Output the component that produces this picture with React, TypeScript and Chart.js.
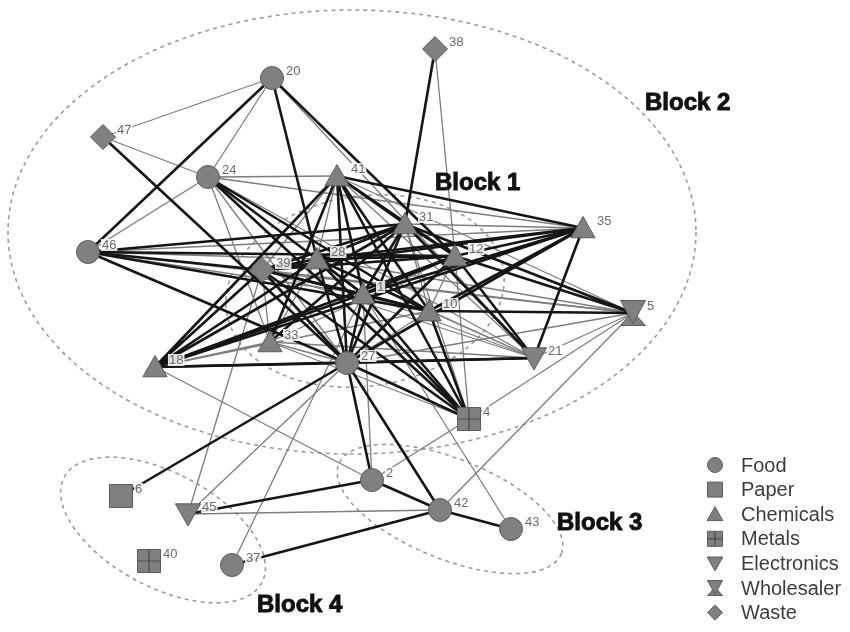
import React, { useEffect, useRef } from 'react';
import { Chart, registerables } from 'chart.js';

Chart.register(...registerables);

// ---------- data ----------
const nodeIds = ['1', '2', '4', '5', '6', '10', '12', '18', '20', '21', '24', '27', '28', '31', '33', '35', '37', '38', '39', '40', '41', '42', '43', '45', '46', '47'];
const nodeX = [363, 372, 469, 633, 121, 429, 455, 155, 272, 534, 208, 347, 317, 405, 270, 583, 232, 435, 262, 149, 337, 440, 511, 188, 88, 103];
const nodeY = [294, 480, 419, 313, 496, 311, 256, 367, 78, 358, 177, 363, 259, 224, 342, 228, 565, 49, 270, 561, 176, 510, 529, 514, 252, 137];
const nodeSector = ['Chemicals', 'Food', 'Metals', 'Wholesaler', 'Paper', 'Chemicals', 'Chemicals', 'Chemicals', 'Food', 'Electronics', 'Food', 'Food', 'Chemicals', 'Chemicals', 'Chemicals', 'Chemicals', 'Food', 'Waste', 'Waste', 'Metals', 'Chemicals', 'Food', 'Food', 'Electronics', 'Food', 'Waste'];

const sectors = ['Food', 'Paper', 'Chemicals', 'Metals', 'Electronics', 'Wholesaler', 'Waste'];

const strongTies: [string, string][] = [
  ['20', '46'], ['20', '28'], ['20', '12'],
  ['38', '31'], ['47', '27'],
  ['24', '1'], ['24', '10'], ['24', '4'],
  ['46', '31'], ['46', '12'], ['46', '39'], ['46', '10'], ['46', '27'],
  ['39', '18'], ['39', '27'], ['39', '28'], ['39', '31'], ['39', '12'], ['39', '35'], ['39', '1'], ['39', '10'], ['39', '4'],
  ['41', '18'], ['41', '33'], ['41', '1'], ['41', '27'], ['41', '31'], ['41', '12'], ['41', '10'], ['41', '35'], ['41', '4'],
  ['31', '18'], ['31', '28'], ['31', '1'], ['31', '27'], ['31', '12'], ['31', '33'], ['31', '21'], ['31', '5'],
  ['12', '28'], ['12', '1'], ['12', '18'], ['12', '27'], ['12', '35'], ['12', '5'], ['12', '21'],
  ['35', '28'], ['35', '1'], ['35', '10'], ['35', '18'], ['35', '27'], ['35', '21'],
  ['5', '10'],
  ['18', '27'], ['18', '21'], ['18', '28'], ['18', '1'],
  ['28', '1'], ['28', '10'], ['28', '27'], ['28', '4'],
  ['1', '10'], ['1', '27'], ['1', '4'],
  ['10', '4'],
  ['27', '4'], ['27', '6'], ['27', '2'], ['27', '42'], ['27', '21'],
  ['2', '45'], ['2', '42'], ['42', '37'], ['42', '43'],
];

const weakTies: [string, string][] = [
  ['20', '47'], ['20', '24'], ['20', '21'],
  ['38', '12'], ['47', '24'],
  ['24', '46'], ['24', '41'], ['24', '35'], ['24', '28'], ['24', '27'], ['24', '21'], ['24', '33'],
  ['46', '35'], ['46', '28'], ['46', '1'], ['46', '5'],
  ['39', '45'], ['39', '33'], ['39', '41'], ['39', '21'], ['39', '5'],
  ['41', '28'], ['41', '21'], ['41', '5'],
  ['31', '10'], ['31', '35'], ['31', '4'],
  ['12', '33'], ['12', '4'], ['12', '10'],
  ['5', '21'], ['5', '27'], ['5', '4'], ['5', '42'],
  ['21', '33'], ['21', '1'], ['21', '28'],
  ['33', '28'], ['33', '18'], ['33', '27'], ['33', '4'],
  ['28', '5'],
  ['1', '43'], ['1', '37'], ['1', '2'],
  ['10', '27'], ['10', '21'], ['10', '18'],
  ['18', '2'], ['2', '4'], ['42', '45'], ['27', '45'],
];

const blockNames = ['Block 1', 'Block 2', 'Block 3', 'Block 4'];
const blockLabelX = [435, 645, 557, 257];
const blockLabelY = [183, 103, 523, 605];
const blockCX = [365, 352, 450, 163];
const blockCY = [291, 232, 509, 530];
const blockRX = [140, 344, 120, 112];
const blockRY = [95, 222, 50, 57];
const blockRot = [-0.15, 0, 0.384, 0.49];

// ---------- styles ----------
const NODE_FILL = '#808080';
const NODE_STROKE = '#5c5c5c';
const STRONG_COLOR = '#151515';
const WEAK_COLOR = '#7d7d7d';

function drawShape(ctx: CanvasRenderingContext2D, sector: string, cx: number, cy: number, s: number) {
  ctx.fillStyle = NODE_FILL;
  ctx.strokeStyle = NODE_STROKE;
  ctx.lineWidth = 1;
  ctx.setLineDash([]);
  ctx.beginPath();
  switch (sector) {
    case 'Food':
      ctx.arc(cx, cy, s, 0, Math.PI * 2);
      break;
    case 'Paper':
    case 'Metals':
      ctx.rect(cx - s, cy - s, 2 * s, 2 * s);
      break;
    case 'Chemicals':
      ctx.moveTo(cx, cy - s);
      ctx.lineTo(cx + s * 1.05, cy + s * 0.85);
      ctx.lineTo(cx - s * 1.05, cy + s * 0.85);
      ctx.closePath();
      break;
    case 'Electronics':
      ctx.moveTo(cx - s * 1.05, cy - s * 0.85);
      ctx.lineTo(cx + s * 1.05, cy - s * 0.85);
      ctx.lineTo(cx, cy + s);
      ctx.closePath();
      break;
    case 'Wholesaler':
      ctx.moveTo(cx - s, cy + s);
      ctx.lineTo(cx + s, cy + s);
      ctx.lineTo(cx, cy - s * 0.1);
      ctx.closePath();
      ctx.fill();
      ctx.stroke();
      ctx.beginPath();
      ctx.moveTo(cx - s, cy - s);
      ctx.lineTo(cx + s, cy - s);
      ctx.lineTo(cx, cy + s * 0.85);
      ctx.closePath();
      break;
    case 'Waste':
      ctx.moveTo(cx, cy - s);
      ctx.lineTo(cx + s, cy);
      ctx.lineTo(cx, cy + s);
      ctx.lineTo(cx - s, cy);
      ctx.closePath();
      break;
  }
  ctx.fill();
  ctx.stroke();
  if (sector === 'Metals') {
    ctx.beginPath();
    ctx.strokeStyle = '#4a4a4a';
    ctx.lineWidth = 1.2;
    ctx.moveTo(cx, cy - s);
    ctx.lineTo(cx, cy + s);
    ctx.moveTo(cx - s, cy);
    ctx.lineTo(cx + s, cy);
    ctx.stroke();
  }
}

const nodeHalfSize: Record<string, number> = {
  Food: 11.5, Paper: 11.5, Chemicals: 11.5, Metals: 11.5, Electronics: 12, Wholesaler: 12.5, Waste: 12.5,
};

function makeSymbol(sector: string): HTMLCanvasElement {
  const c = document.createElement('canvas');
  c.width = 32;
  c.height = 32;
  const ctx = c.getContext('2d')!;
  drawShape(ctx, sector, 16, 16, nodeHalfSize[sector]);
  return c;
}

const overlayPlugin = {
  id: 'networkOverlay',
  beforeDatasetsDraw(chart: any) {
    const { ctx, scales } = chart;
    const xs = scales.x;
    const ys = scales.y;
    ctx.save();
    ctx.setLineDash([4, 4]);
    ctx.strokeStyle = '#9c9c9c';
    ctx.lineWidth = 1.6;
    for (let i = 0; i < blockNames.length; i++) {
      const px = xs.getPixelForValue(blockCX[i]);
      const py = ys.getPixelForValue(blockCY[i]);
      const rx = Math.abs(xs.getPixelForValue(blockCX[i] + blockRX[i]) - px);
      const ry = Math.abs(ys.getPixelForValue(blockCY[i] + blockRY[i]) - py);
      ctx.beginPath();
      ctx.ellipse(px, py, rx, ry, blockRot[i], 0, Math.PI * 2);
      ctx.stroke();
    }
    ctx.restore();
  },
  afterDatasetsDraw(chart: any) {
    const { ctx, scales } = chart;
    const xs = scales.x;
    const ys = scales.y;
    ctx.save();
    // node labels
    ctx.font = '13px "Liberation Sans", Arial, sans-serif';
    ctx.textAlign = 'left';
    ctx.textBaseline = 'middle';
    for (let i = 0; i < nodeIds.length; i++) {
      const px = xs.getPixelForValue(nodeX[i]) + 14;
      const py = ys.getPixelForValue(nodeY[i]) - 7;
      const w = ctx.measureText(nodeIds[i]).width;
      ctx.fillStyle = 'rgba(255,255,255,0.85)';
      ctx.fillRect(px - 1, py - 6, w + 2, 12);
      ctx.fillStyle = '#6a6a6a';
      ctx.fillText(nodeIds[i], px, py);
    }
    // block titles
    ctx.font = 'bold 24px "Liberation Sans", Arial, sans-serif';
    ctx.fillStyle = '#111111';
    ctx.strokeStyle = '#111111';
    ctx.lineWidth = 0.9;
    for (let i = 0; i < blockNames.length; i++) {
      const bx = xs.getPixelForValue(blockLabelX[i]);
      const by = ys.getPixelForValue(blockLabelY[i]);
      ctx.fillText(blockNames[i], bx, by);
      ctx.strokeText(blockNames[i], bx, by);
    }
    // legend
    ctx.font = '20px "Liberation Sans", Arial, sans-serif';
    for (let i = 0; i < sectors.length; i++) {
      const ly = 465 + i * 24.6;
      drawShape(ctx, sectors[i], 715, ly, 7.5);
      ctx.fillStyle = '#3c3c3c';
      ctx.textBaseline = 'middle';
      ctx.fillText(sectors[i], 741, ly + 1);
    }
    ctx.restore();
  },
};

export default function App() {
  const canvasRef = useRef<HTMLCanvasElement | null>(null);

  useEffect(() => {
    const canvas = canvasRef.current;
    if (!canvas) return;
    const idx: Record<string, number> = {};
    nodeIds.forEach((id, i) => (idx[id] = i));
    const pt = (id: string) => ({ x: nodeX[idx[id]], y: nodeY[idx[id]] });

    const datasets: any[] = [];
    weakTies.forEach(([a, b]) => {
      datasets.push({
        data: [pt(a), pt(b)],
        showLine: true,
        borderColor: WEAK_COLOR,
        borderWidth: 1.3,
        pointRadius: 0,
        order: 2,
        clip: false,
      });
    });
    strongTies.forEach(([a, b]) => {
      datasets.push({
        data: [pt(a), pt(b)],
        showLine: true,
        borderColor: STRONG_COLOR,
        borderWidth: 2.6,
        pointRadius: 0,
        order: 1,
        clip: false,
      });
    });
    sectors.forEach((sec) => {
      const symbol = makeSymbol(sec);
      const data = nodeIds
        .map((id, i) => ({ id, i }))
        .filter((n) => nodeSector[n.i] === sec)
        .map((n) => ({ x: nodeX[n.i], y: nodeY[n.i] }));
      datasets.push({
        label: sec,
        data,
        showLine: false,
        pointStyle: symbol,
        pointRadius: 12,
        order: 0,
        clip: false,
      });
    });

    const chart = new Chart(canvas, {
      type: 'scatter',
      data: { datasets },
      options: {
        animation: false,
        responsive: false,
        events: [],
        layout: { padding: 0, autoPadding: false },
        plugins: { legend: { display: false }, tooltip: { enabled: false } },
        scales: {
          x: { type: 'linear', min: 0, max: 850, display: false },
          y: { type: 'linear', min: 0, max: 632, reverse: true, display: false },
        },
      },
      plugins: [overlayPlugin],
    });
    return () => chart.destroy();
  }, []);

  return (
    <div style={{ position: 'absolute', left: 0, top: 0, width: 850, height: 632, background: '#ffffff' }}>
      <canvas ref={canvasRef} width={850} height={632} style={{ display: 'block' }} />
    </div>
  );
}
